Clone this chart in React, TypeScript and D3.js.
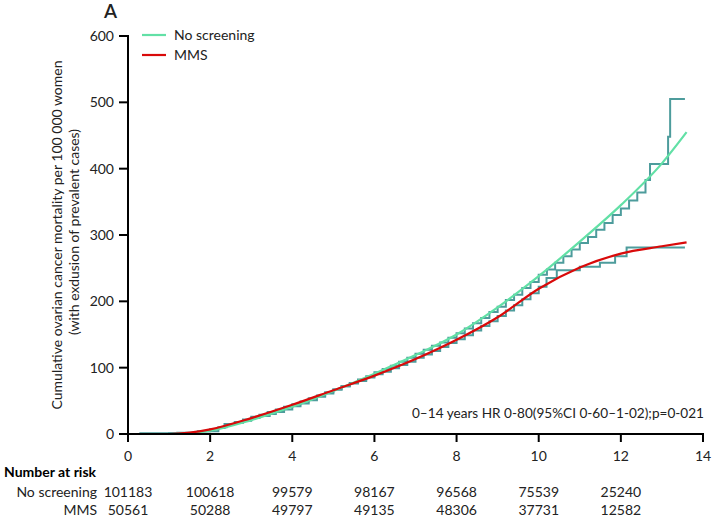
import React from "react";
import * as d3 from "d3";

const xTicks = [0, 2, 4, 6, 8, 10, 12, 14];
const yTicks = [0, 100, 200, 300, 400, 500, 600];

// Smooth fitted curves [years, mortality]
const noScreeningFit: [number, number][] = [
  [0, 0], [1, 0], [1.5, 1], [2, 5], [3, 21], [4, 41], [5, 65], [6, 91], [7, 119],
  [8, 150], [9, 191], [10, 238], [11, 290], [12, 345], [13, 408], [13.6, 455],
];
const mmsFit: [number, number][] = [
  [0, 0], [1, 0], [1.5, 2], [2, 7], [3, 24], [4, 44], [5, 66], [6, 88], [7, 113],
  [8, 142], [9, 176], [10, 219], [11, 251], [12, 272], [13, 283], [13.6, 289],
];

// Kaplan-Meier style step estimates [time of step, value after step]
const noScreeningSteps: [number, number][] = [
  [0, 0], [0.3, 1], [1.2, 2], [1.8, 4], [2.2, 9], [2.35, 15], [2.6, 17], [2.8, 20], [3.0, 24],
  [3.2, 27], [3.45, 30], [3.6, 33], [3.8, 37], [4.0, 42], [4.2, 46], [4.4, 51], [4.6, 56],
  [4.8, 61], [5.0, 67], [5.2, 72], [5.4, 77], [5.6, 82], [5.8, 87], [6.0, 93], [6.2, 98],
  [6.4, 103], [6.6, 109], [6.8, 115], [7.0, 121], [7.2, 127], [7.4, 133], [7.6, 138],
  [7.8, 145], [8.0, 152], [8.2, 159], [8.4, 167], [8.6, 175], [8.8, 184], [9.0, 192],
  [9.2, 202], [9.4, 210], [9.6, 220], [9.8, 229], [10.0, 240], [10.2, 248], [10.4, 258],
  [10.6, 268], [10.8, 278], [11.0, 288], [11.2, 297], [11.4, 308], [11.6, 318], [11.8, 330],
  [12.0, 340], [12.2, 352], [12.4, 364], [12.6, 383], [12.71, 407], [13.15, 448], [13.2, 505],
  [13.56, 505],
];
const mmsSteps: [number, number][] = [
  [0, 0], [1.0, 1], [1.7, 4], [2.0, 7], [2.2, 10], [2.4, 15], [2.6, 18], [2.8, 22], [3.0, 26],
  [3.2, 29], [3.4, 33], [3.6, 37], [3.8, 41], [4.0, 45], [4.2, 49], [4.4, 54], [4.6, 58],
  [4.8, 63], [5.0, 67], [5.2, 72], [5.4, 76], [5.6, 80], [5.8, 85], [6.0, 90], [6.2, 94],
  [6.4, 99], [6.6, 104], [6.8, 109], [7.0, 115], [7.2, 120], [7.4, 125], [7.6, 131],
  [7.8, 137], [8.0, 143], [8.2, 149], [8.4, 156], [8.6, 163], [8.8, 170], [9.0, 178],
  [9.2, 186], [9.4, 194], [9.6, 203], [9.8, 212], [10.0, 222], [10.19, 235], [10.44, 247],
  [11.0, 252], [11.49, 258], [11.86, 268], [12.14, 281], [13.56, 281],
];

const riskTimes = [0, 2, 4, 6, 8, 10, 12];
const riskNoScreening = [101183, 100618, 99579, 98167, 96568, 75539, 25240];
const riskMMS = [50561, 50288, 49797, 49135, 48306, 37731, 12582];

const annotation = "0–14 years HR 0-80(95%CI 0-60–1-02);p=0-021";

const GREEN = "#62e0a6";
const RED = "#d90a0a";
const TEAL = "#4d9c9c";
const TXT = "#222";
const FONT = "Lato, 'Open Sans', sans-serif";

export default function App() {
  const x = d3.scaleLinear().domain([0, 14]).range([128, 703]);
  const y = d3.scaleLinear().domain([0, 600]).range([434, 36]);

  const step = d3.line<[number, number]>().x((d) => x(d[0])).y((d) => y(d[1])).curve(d3.curveStepAfter);
  const smooth = d3.line<[number, number]>().x((d) => x(d[0])).y((d) => y(d[1])).curve(d3.curveMonotoneX);

  return (
    <svg width={712} height={520} style={{ position: "absolute", left: 0, top: 0, background: "#fff" }} fontFamily={FONT}>
      <rect width={712} height={520} fill="#fff" />
      <text x={104} y={18} fontSize={19} fontWeight={600} fill={TXT}>A</text>

      {/* curves */}
      <path d={step(noScreeningSteps) || ""} fill="none" stroke={TEAL} strokeWidth={2} />
      <path d={step(mmsSteps) || ""} fill="none" stroke={TEAL} strokeWidth={2} />
      <path d={smooth(noScreeningFit) || ""} fill="none" stroke={GREEN} strokeWidth={2.2} />
      <path d={smooth(mmsFit) || ""} fill="none" stroke={RED} strokeWidth={2.2} />

      {/* axes */}
      <line x1={x(0)} x2={x(0)} y1={y(600) - 1} y2={y(0) + 1} stroke="#000" strokeWidth={2} />
      <line x1={x(0) - 1} x2={x(14) + 1} y1={y(0)} y2={y(0)} stroke="#000" strokeWidth={2} />
      {yTicks.map((t) => (
        <g key={"y" + t}>
          <line x1={x(0) - 9} x2={x(0)} y1={y(t)} y2={y(t)} stroke="#000" strokeWidth={2} />
          <text x={x(0) - 14} y={y(t)} dy="0.35em" textAnchor="end" fontSize={14} fill={TXT}>{t}</text>
        </g>
      ))}
      {xTicks.map((t) => (
        <g key={"x" + t}>
          <line x1={x(t)} x2={x(t)} y1={y(0)} y2={y(0) + 8} stroke="#000" strokeWidth={2} />
          <text x={x(t)} y={461} textAnchor="middle" fontSize={14} fill={TXT}>{t}</text>
        </g>
      ))}

      {/* y label */}
      <text transform="translate(62,235) rotate(-90)" textAnchor="middle" fontSize={14} fill={TXT}>
        Cumulative ovarian cancer mortality per 100 000 women
      </text>
      <text transform="translate(79,232) rotate(-90)" textAnchor="middle" fontSize={14} fill={TXT}>
        (with exdusion of prevalent cases)
      </text>

      {/* legend */}
      <line x1={142} x2={166} y1={35} y2={35} stroke={GREEN} strokeWidth={2.2} />
      <text x={174} y={35} dy="0.35em" fontSize={14} fill={TXT}>No screening</text>
      <line x1={142} x2={166} y1={55} y2={55} stroke={RED} strokeWidth={2.2} />
      <text x={174} y={55} dy="0.35em" fontSize={14} fill={TXT}>MMS</text>

      <text x={704} y={413} dy="0.35em" textAnchor="end" fontSize={13.6} fill={TXT}>{annotation}</text>

      {/* number at risk */}
      <text x={4} y={472} dy="0.35em" fontSize={14} fontWeight="bold" fill="#000">Number at risk</text>
      <text x={97} y={492} dy="0.35em" textAnchor="end" fontSize={14} fill={TXT}>No screening</text>
      <text x={97} y={510} dy="0.35em" textAnchor="end" fontSize={14} fill={TXT}>MMS</text>
      {riskTimes.map((t, i) => (
        <g key={"r" + t}>
          <text x={x(t)} y={492} dy="0.35em" textAnchor="middle" fontSize={14} fill={TXT}>{riskNoScreening[i]}</text>
          <text x={x(t)} y={510} dy="0.35em" textAnchor="middle" fontSize={14} fill={TXT}>{riskMMS[i]}</text>
        </g>
      ))}
    </svg>
  );
}
